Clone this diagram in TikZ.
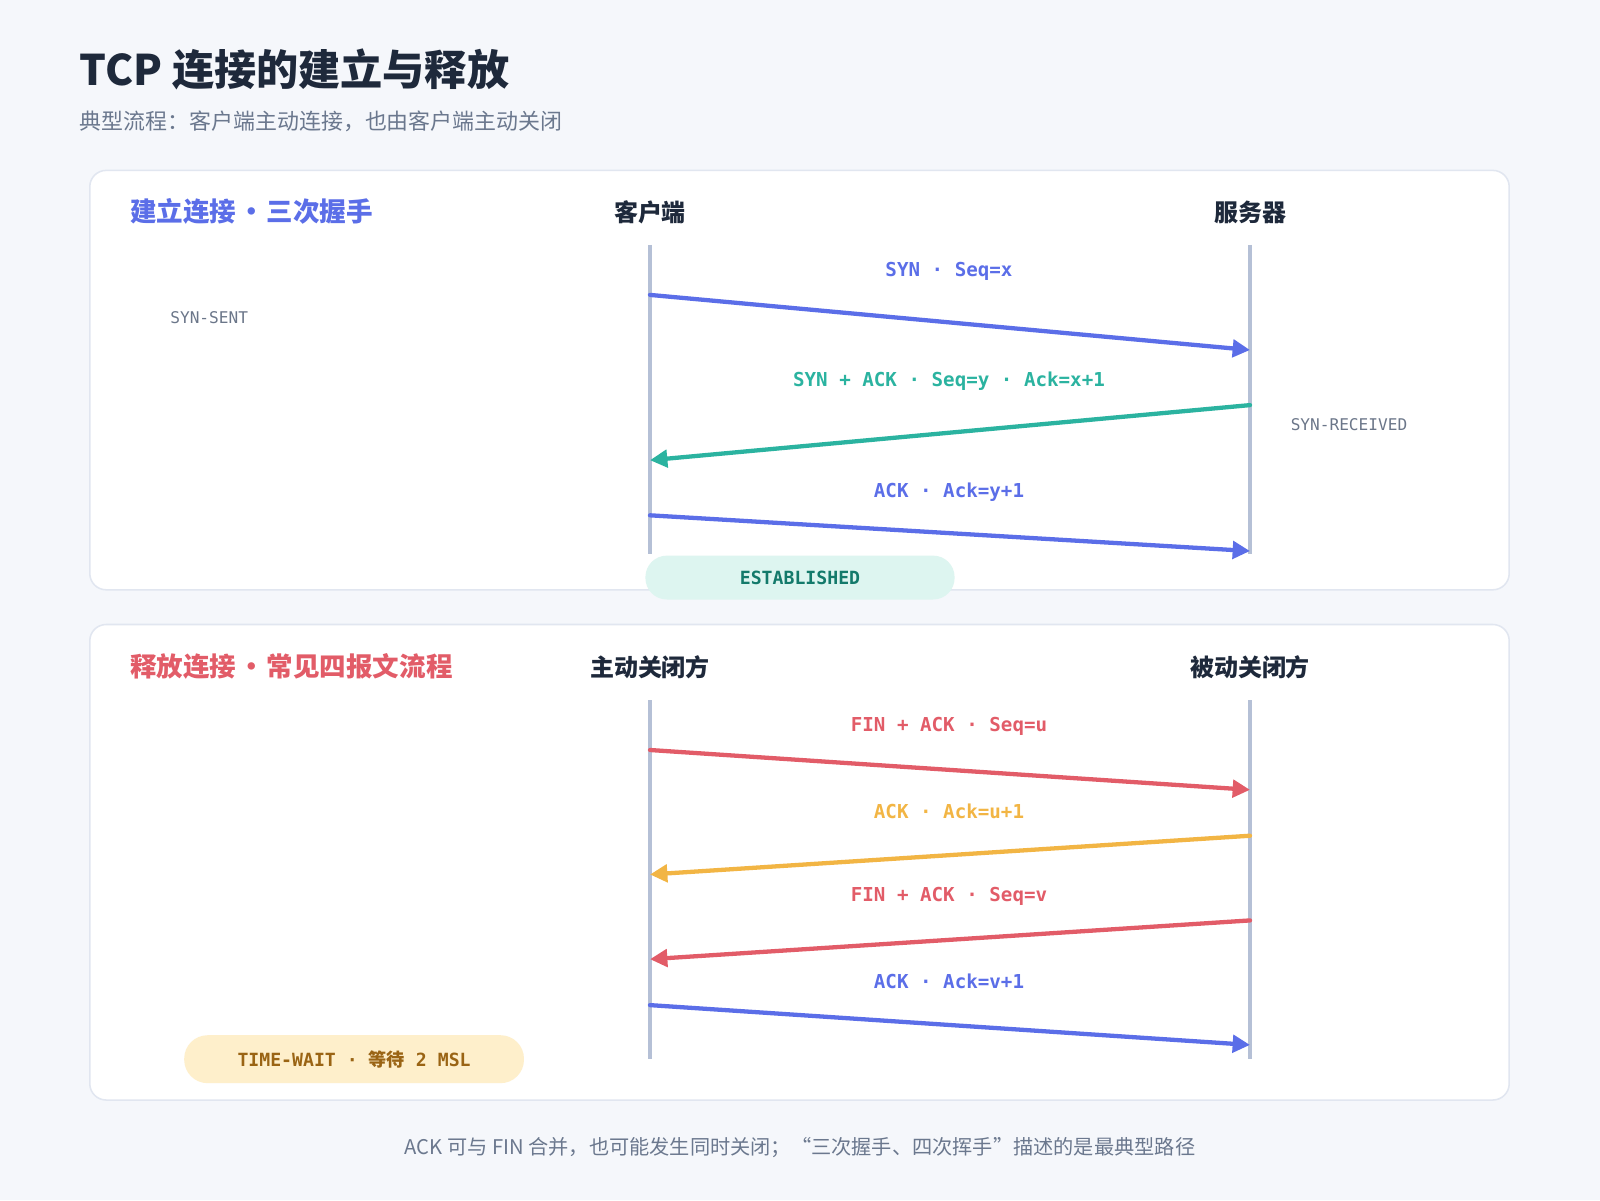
\documentclass[tikz,border=0pt]{standalone}
\usepackage{fontspec}
\setmainfont{Noto Sans CJK SC}
\setmonofont{DejaVu Sans Mono}
\newfontfamily\cjk{Noto Sans CJK SC}
\usetikzlibrary{arrows.meta,positioning}

\definecolor{bg}{HTML}{F5F7FB}
\definecolor{panelline}{HTML}{E1E6F0}
\definecolor{navy}{HTML}{1E293B}
\definecolor{subgray}{HTML}{6B788E}
\definecolor{stategray}{HTML}{6B7689}
\definecolor{lifeline}{HTML}{B5C0D6}
\definecolor{indigo}{HTML}{5B6EE8}
\definecolor{teal}{HTML}{2BB3A0}
\definecolor{rose}{HTML}{E25C68}
\definecolor{amber}{HTML}{F2B544}
\definecolor{mint}{HTML}{DDF5F0}
\definecolor{mintdark}{HTML}{137A6B}
\definecolor{cream}{HTML}{FEEFCB}
\definecolor{brown}{HTML}{9A6414}

\begin{document}
\begin{tikzpicture}[x=1pt, y=-1pt,
    panel/.style={draw=panelline, line width=1.5pt, fill=white, rounded corners=16pt},
    life/.style={draw=lifeline, line width=3pt},
    msg/.style={line width=4.2pt, line cap=round, -{Triangle[length=17pt, width=17pt]}},
    lbl/.style={font=\fontsize{18.8}{22}\selectfont\ttfamily\bfseries},
    state/.style={font=\fontsize{15.8}{18}\selectfont\ttfamily, text=stategray},
    head/.style={font=\fontsize{23.5}{28}\selectfont\bfseries, text=navy},
    sect/.style={anchor=west, font=\fontsize{26}{30}\selectfont\bfseries},
    pill/.style={font=\fontsize{17.8}{20}\selectfont\ttfamily\bfseries}]
    \fill[bg] (0,0) rectangle (1568,1176);
    \useasboundingbox (0,0) rectangle (1568,1176);

    % title
    \node[anchor=base west, inner sep=0, text=navy, font=\fontsize{41.3}{48}\selectfont\bfseries] (title) at (78,84) {TCP 连接的建立与释放};
    \node[anchor=base west, inner sep=0, text=subgray, font=\fontsize{21.5}{26}\selectfont] (subtitle) at (78,127) {典型流程：客户端主动连接，也由客户端主动关闭};

    % handshake
    \draw[panel] (88,167) rectangle (1479,578);
    \node[sect, text=indigo] (open) at (124,207) {建立连接\kern2pt•\kern2pt三次握手};
    \node[head] (cli) at (637,208) {客户端};
    \node[head] (srv) at (1225,208) {服务器};
    \draw[life] (cli.center |- 0,240) -- (cli.center |- 0,543);
    \draw[life] (srv.center |- 0,240) -- (srv.center |- 0,543);
    \node[state] (synsent) at (205,311) {SYN-SENT};
    \node[state] (synrcvd) at (1322,416) {SYN-RECEIVED};

    \coordinate (c1) at (637,289); \coordinate (s1) at (1225,343);
    \coordinate (s2) at (1225,397); \coordinate (c2) at (637,451);
    \coordinate (c3) at (637,505); \coordinate (s3) at (1225,540);
    \draw[msg, indigo] (c1) -- (s1);
    \draw[msg, teal] (s2) -- (c2);
    \draw[msg, indigo] (c3) -- (s3);
    \node[lbl, text=indigo] (syn) at (930,266) {SYN · Seq=x};
    \node[lbl, text=teal] (synack) at (930,374) {SYN + ACK · Seq=y · Ack=x+1};
    \node[lbl, text=indigo] (ack) at (930,482) {ACK · Ack=y+1};
    \node[pill, fill=mint, text=mintdark, rounded corners=21pt, minimum width=303pt, minimum height=43pt] (est) at (784,566) {ESTABLISHED};

    % teardown
    \draw[panel] (88,612) rectangle (1479,1078);
    \node[sect, text=rose] (close) at (124,653) {释放连接\kern2pt•\kern2pt常见四报文流程};
    \node[head] (act) at (637,654) {主动关闭方};
    \node[head] (pas) at (1225,654) {被动关闭方};
    \draw[life] (act.center |- 0,686) -- (act.center |- 0,1038);
    \draw[life] (pas.center |- 0,686) -- (pas.center |- 0,1038);

    \coordinate (a1) at (637,735); \coordinate (p1) at (1225,774);
    \coordinate (p2) at (1225,819); \coordinate (a2) at (637,857);
    \coordinate (p3) at (1225,902); \coordinate (a3) at (637,940);
    \coordinate (a4) at (637,985); \coordinate (p4) at (1225,1024);
    \draw[msg, rose] (a1) -- (p1);
    \draw[msg, amber] (p2) -- (a2);
    \draw[msg, rose] (p3) -- (a3);
    \draw[msg, indigo] (a4) -- (p4);
    \node[lbl, text=rose] (fin1) at (930,712) {FIN + ACK · Seq=u};
    \node[lbl, text=amber] (ack1) at (930,795) {ACK · Ack=u+1};
    \node[lbl, text=rose] (fin2) at (930,878) {FIN + ACK · Seq=v};
    \node[lbl, text=indigo] (ack2) at (930,962) {ACK · Ack=v+1};
    \node[pill, fill=cream, text=brown, rounded corners=23pt, minimum width=333pt, minimum height=47pt] (tw) at (347,1038) {TIME-WAIT · {\cjk\bfseries 等待} 2 MSL};

    \node[text=subgray, font=\fontsize{19.8}{24}\selectfont] (note) at (784,1125) {ACK 可与 FIN 合并，也可能发生同时关闭；“三次握手、四次挥手”描述的是最典型路径};
\end{tikzpicture}
\end{document}
